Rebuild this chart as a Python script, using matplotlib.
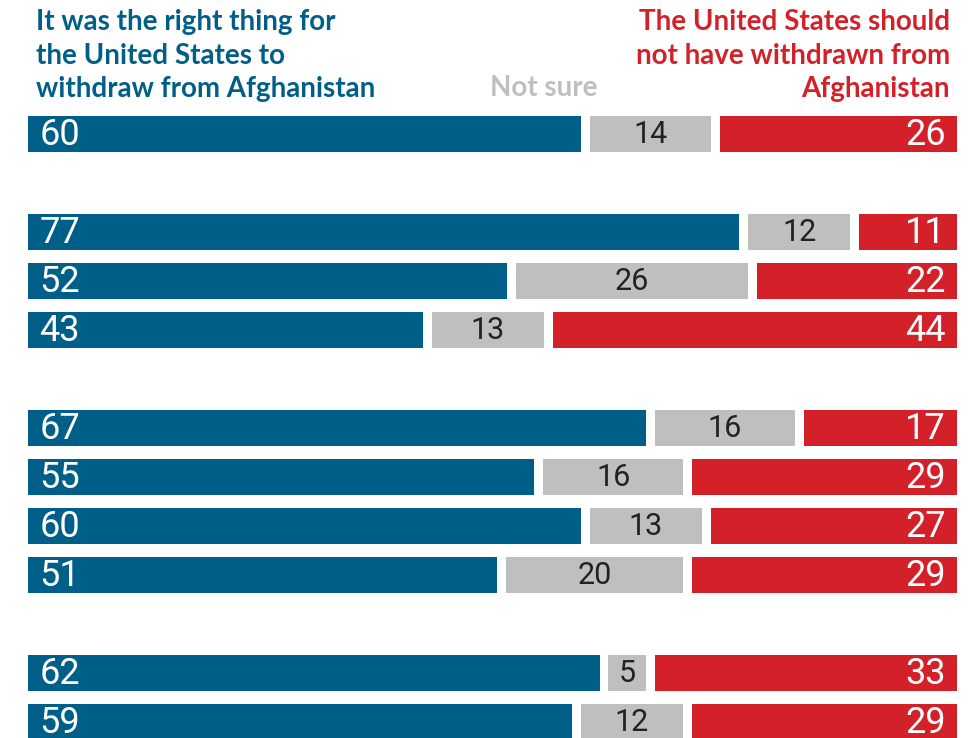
import matplotlib
matplotlib.use("Agg")
import matplotlib.pyplot as plt
from matplotlib import font_manager

# Data
right_thing = [60, 77, 52, 43, 67, 55, 60, 51, 62, 59]
not_sure = [14, 12, 26, 13, 16, 16, 13, 20, 5, 12]
should_not = [26, 11, 22, 44, 17, 29, 27, 29, 33, 29]
rows = [0, 2, 3, 4, 6, 7, 8, 9, 11, 12]  # blank rows separate the groups

header_left = "It was the right thing for\nthe United States to\nwithdraw from Afghanistan"
header_mid = "Not sure"
header_right = "The United States should\nnot have withdrawn from\nAfghanistan"

BLUE = "#005f89"
GRAY = "#bfbfbf"
RED = "#d42129"

names = {f.name for f in font_manager.fontManager.ttflist}
num_font = ["Liberation Sans Narrow", "DejaVu Sans"] if "Liberation Sans Narrow" in names else ["Roboto", "DejaVu Sans"]
head_font = ["Lato", "DejaVu Sans"]

W, H = 980, 738
fig = plt.figure(figsize=(W / 100, H / 100), dpi=100)
ax = fig.add_axes([28 / W, 0, (957 - 28) / W, 1])
ax.set_xlim(0, 100)
ax.set_ylim((738 - 134) / 49, -134 / 49)
ax.axis("off")

gap = 0.48  # half of the white gap between segments, in percent units
bh = 36 / 49

for y, a, b, c in zip(rows, right_thing, not_sure, should_not):
    ax.barh(y, a - gap, left=0, height=bh, color=BLUE, linewidth=0)
    ax.barh(y, b - 2 * gap, left=a + gap, height=bh, color=GRAY, linewidth=0)
    ax.barh(y, c - gap, left=a + b + gap, height=bh, color=RED, linewidth=0)
    ax.text(1.2, y + 0.02, str(a), color="white", fontsize=26, family=num_font,
            ha="left", va="center")
    ax.text(a + b / 2, y + 0.02, str(b), color="#222222", fontsize=22, family=num_font,
            ha="center", va="center")
    ax.text(98.8, y + 0.02, str(c), color="white", fontsize=26, family=num_font,
            ha="right", va="center")

# headers
hs = 20
fig.text(36 / W, 1 - 9 / H, header_left, color=BLUE, fontsize=hs, family=head_font,
         weight="bold", ha="left", va="top", linespacing=1.36)
fig.text(950 / W, 1 - 9 / H, header_right, color=RED, fontsize=hs, family=head_font,
         weight="bold", ha="right", va="top", linespacing=1.36, multialignment="right")
fig.text(490 / W, 1 - 96 / H, header_mid, color=GRAY, fontsize=hs, family=head_font,
         weight="bold", ha="left", va="baseline")

fig.savefig("out.png", dpi=100)
